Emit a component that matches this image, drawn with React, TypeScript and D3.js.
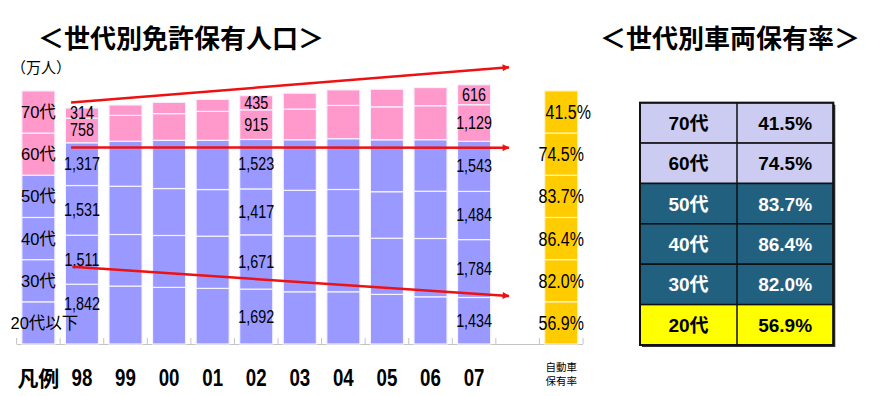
import React from "react";
import * as d3 from "d3";

// categories along the bottom
const cats = ["凡例", "98", "99", "00", "01", "02", "03", "04", "05", "06", "07", "", "自動車保有率"];
const years = ["98", "99", "00", "01", "02", "03", "04", "05", "06", "07"];
const labelYears = ["98", "02", "07"];

// licence holders per age group (万人), bottom to top
const ages = ["20代以下", "30代", "40代", "50代", "60代", "70代"];
const age20 = [1842, 1785, 1745, 1714, 1692, 1609, 1609, 1529, 1455, 1434];
const age30 = [1511, 1590, 1600, 1609, 1671, 1720, 1725, 1730, 1797, 1784];
const age40 = [1531, 1486, 1446, 1437, 1417, 1406, 1428, 1434, 1455, 1484];
const age50 = [1317, 1385, 1486, 1517, 1523, 1560, 1565, 1600, 1590, 1543];
const age60 = [758, 800, 822, 892, 915, 945, 1025, 1015, 1046, 1129];
const age70 = [314, 320, 350, 370, 435, 490, 480, 545, 560, 616];

// car ownership rate per age group, bottom to top
const rates = ["56.9%", "82.0%", "86.4%", "83.7%", "74.5%", "41.5%"];
const tableAges = ["70代", "60代", "50代", "40代", "30代", "20代"];
const tableRates = ["41.5%", "74.5%", "83.7%", "86.4%", "82.0%", "56.9%"];

// legend / rate column segments are drawn equal
const legendSeg = 1300;

// trend arrows: [band index, value] pairs
const arrows = [
  { i0: 1.25, v0: 7440, i1: 11.3, v1: 8530 },
  { i0: 1.25, v0: 6055, i1: 11.3, v1: 6050 },
  { i0: 1.28, v0: 2382, i1: 11.3, v1: 1479 },
];

const PINK = "#ff99cc";
const BLUE = "#9999ff";
const YELLOW = "#ffcc00";
const SANS = "Arial, 'Liberation Sans', 'Noto Sans CJK JP', sans-serif";
const CJK = "'Noto Sans CJK JP', sans-serif";

const W = 870;
const H = 396;
const x0 = 16.6;
const x1 = 583;
const base = 344;

// narrow-looking text: squeeze horizontally
function Narrow({ x, y, size, sx = 0.82, bold = false, children }: any) {
  return (
    <text transform={`translate(${x},${y}) scale(${sx},1)`} textAnchor="middle" fontFamily={SANS} fontSize={size} fontWeight={bold ? 700 : 400}>
      {children}
    </text>
  );
}

export default function App() {
  const x = d3.scaleBand<string>().domain(cats.map((c, i) => String(i))).range([x0, x1]).paddingInner(0.24).paddingOuter(0.12);
  const step = x.step();
  const bw = x.bandwidth();
  const y = d3.scaleLinear().domain([0, 8000]).range([base, base - 8000 * 0.03245]);
  const xi = d3.scaleLinear().domain([0, cats.length]).range([x0, x0 + step * cats.length]);

  const series = [age20, age30, age40, age50, age60, age70];
  const stacked = d3.stack<number>().keys(d3.range(6).map(String)).value((j, k) => series[+k][j])(d3.range(years.length));
  const equal = d3.range(6).map((k) => [k * legendSeg, (k + 1) * legendSeg]);

  const segColor = (k: number) => (k >= 4 ? PINK : BLUE);
  const fmt = d3.format(",");

  const rowH = (345 - 102.7) / 6;
  const tx = [640, 737, 833.3];
  const rowFill = (r: number) => (r < 2 ? "#ccccf2" : r < 5 ? "#226080" : "#ffff00");

  return (
    <div style={{ position: "absolute", left: 0, top: 0 }}>
      <svg width={W} height={H} style={{ display: "block", background: "#fff" }}>
        <defs>
          <marker id="ah" viewBox="0 0 10 10" refX="9" refY="5" markerWidth="9" markerHeight="7" markerUnits="userSpaceOnUse" orient="auto">
            <path d="M0,0 L10,5 L0,10 z" fill="#ee1111" />
          </marker>
        </defs>

        {/* titles */}
        <text x={181} y={48} textAnchor="middle" fontFamily={CJK} fontWeight={700} fontSize={26}>＜世代別免許保有人口＞</text>
        <text x={730} y={48} textAnchor="middle" fontFamily={CJK} fontWeight={700} fontSize={26}>＜世代別車両保有率＞</text>
        <text x={11} y={73} fontFamily={CJK} fontSize={15}>（万人）</text>

        {/* axis */}
        <line x1={x0} x2={x1} y1={base + 0.5} y2={base + 0.5} stroke="#c4c4c4" />
        {d3.range(cats.length + 1).map((i) => (
          <line key={i} x1={xi(i)} x2={xi(i)} y1={base - 6} y2={base} stroke="#c4c4c4" />
        ))}

        {/* legend column */}
        {equal.map(([a, b], k) => (
          <rect key={k} x={x("0")} y={y(b)} width={bw} height={y(a) - y(b)} fill={segColor(k)} stroke="#f6f2ff" strokeWidth={1.2} />
        ))}

        {/* stacked bars */}
        {stacked.map((layer, k) =>
          layer.map((d, j) => (
            <rect key={`${k}-${j}`} x={x(String(j + 1))} y={y(d[1])} width={bw} height={y(d[0]) - y(d[1])} fill={segColor(k)} stroke="#f6f2ff" strokeWidth={1.2} />
          ))
        )}

        {/* ownership rate column */}
        {equal.map(([a, b], k) => (
          <rect key={`r${k}`} x={x("12")} y={y(b)} width={bw} height={y(a) - y(b)} fill={YELLOW} stroke="#fff3cc" strokeWidth={1.2} />
        ))}

        {/* legend labels */}
        {equal.map(([a, b], k) => (
          <text key={`l${k}`} x={x("0")! + bw / 2 + (ages[k].length > 3 ? 6 : 0)} y={(y(a) + y(b)) / 2 + 6} textAnchor="middle" fontFamily={SANS} fontSize={16.5}>
            {ages[k]}
          </text>
        ))}

        {/* value labels */}
        {stacked.map((layer, k) =>
          layer.map((d, j) =>
            labelYears.includes(years[j]) ? (
              <Narrow key={`t${k}-${j}`} x={x(String(j + 1))! + bw / 2} y={(y(d[0]) + y(d[1])) / 2 + 6 + (j === 0 && k === 0 ? -10 : 0)} size={17.5}>
                {fmt(series[k][j])}
              </Narrow>
            ) : null
          )
        )}
        {equal.map(([a, b], k) => (
          <Narrow key={`p${k}`} x={x("12")! + bw / 2 + (k === 5 ? 7 : 0)} y={(y(a) + y(b)) / 2 + 7} size={19.5}>
            {rates[k]}
          </Narrow>
        ))}

        {/* trend arrows */}
        {arrows.map((a, i) => (
          <line key={i} x1={xi(a.i0)} y1={y(a.v0)} x2={xi(a.i1)} y2={y(a.v1)} stroke="#ee1111" strokeWidth={2.5} markerEnd="url(#ah)" />
        ))}

        {/* category labels */}
        <text x={x("0")! + bw / 2} y={386} textAnchor="middle" fontFamily={CJK} fontWeight={700} fontSize={21}>{cats[0]}</text>
        {cats.slice(1, 11).map((c, i) => (
          <Narrow key={c} x={x(String(i + 1))! + bw / 2} y={386} size={24} sx={0.78} bold>
            {c}
          </Narrow>
        ))}
        <text x={x("12")! + bw / 2} y={371} textAnchor="middle" fontFamily={CJK} fontSize={10.5}>{cats[12].slice(0, 3)}</text>
        <text x={x("12")! + bw / 2} y={385} textAnchor="middle" fontFamily={CJK} fontSize={10.5}>{cats[12].slice(3)}</text>

        {/* ownership table */}
        <rect x={tx[0] + 2} y={102.7 + 2} width={tx[2] - tx[0]} height={rowH * 6} fill="#333" />
        {tableAges.map((a, r) => {
          const ry = 102.7 + r * rowH;
          const tc = r >= 2 && r < 5 ? "#fff" : "#000";
          return (
            <g key={a}>
              <rect x={tx[0]} y={ry} width={tx[2] - tx[0]} height={rowH} fill={rowFill(r)} stroke="#111" strokeWidth={1.5} />
              <text x={(tx[0] + tx[1]) / 2} y={ry + rowH / 2 + 7} textAnchor="middle" fontFamily={SANS} fontWeight={700} fontSize={19} fill={tc}>{a}</text>
              <text x={(tx[1] + tx[2]) / 2} y={ry + rowH / 2 + 7} textAnchor="middle" fontFamily={SANS} fontWeight={700} fontSize={19} fill={tc}>{tableRates[r]}</text>
            </g>
          );
        })}
        <line x1={tx[1]} x2={tx[1]} y1={102.7} y2={102.7 + rowH * 6} stroke="#111" strokeWidth={1.5} />
        <rect x={tx[0]} y={102.7} width={tx[2] - tx[0]} height={rowH * 6} fill="none" stroke="#111" strokeWidth={2} />
      </svg>
    </div>
  );
}
